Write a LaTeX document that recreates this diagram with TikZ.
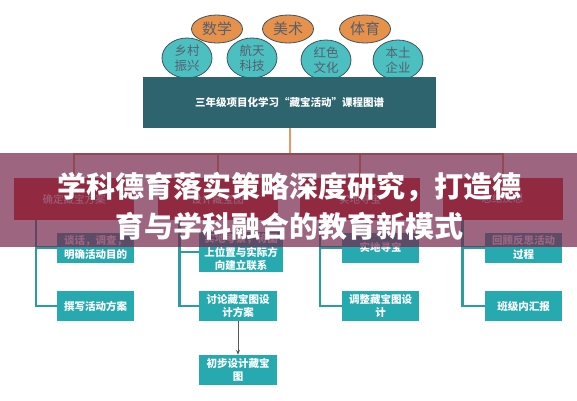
\documentclass[tikz,border=0pt]{standalone}
\usepackage{fontspec}
\usepackage{xcolor}
\usepackage{tikz}
\usetikzlibrary{shapes.geometric, arrows.meta, positioning, calc}
\newfontfamily\cjk{Noto Sans CJK SC}
\newfontfamily\cjkheavy{Noto Sans CJK SC Black}
\definecolor{subjorange}{HTML}{E8914A}
\definecolor{themeteal}{HTML}{4CBFC0}
\definecolor{ovaledge}{HTML}{3A5560}
\definecolor{ovaltext}{HTML}{55606E}
\definecolor{hdrteal}{HTML}{2D646E}
\definecolor{stagered}{HTML}{D63A2E}
\definecolor{taskteal}{HTML}{27A9B0}
\definecolor{linkteal}{HTML}{2A9DA3}
\definecolor{trunkorange}{HTML}{E39A66}
\definecolor{bandplum}{HTML}{74244A}

\begin{document}
\begin{tikzpicture}[
    x=1pt, y=-1pt,
    subj/.style={ellipse, draw=ovaledge, thick, fill=subjorange, minimum width=51pt, minimum height=28pt, inner sep=0pt, font=\cjk\fontsize{15}{16}\selectfont, text=ovaltext},
    theme/.style={ellipse, draw=ovaledge, thick, fill=themeteal, minimum width=50pt, minimum height=40pt, inner sep=0pt, align=center, font=\cjk\fontsize{12.5}{15}\selectfont, text=ovaltext},
    header/.style={rectangle, fill=hdrteal, minimum width=293pt, minimum height=51pt, text=white, font=\cjk\bfseries\fontsize{10.5}{12}\selectfont},
    stage/.style={rectangle, fill=stagered, minimum width=120pt, minimum height=42pt, text=white, font=\cjk\fontsize{10.5}{12}\selectfont},
    task/.style={rectangle, fill=taskteal, minimum width=77pt, minimum height=30pt, inner sep=1pt, align=center, text=white, font=\cjk\bfseries\fontsize{10.5}{13.5}\selectfont},
    link/.style={draw=linkteal, line width=2.6pt},
    trunk/.style={draw=trunkorange, line width=2pt},
    arrow/.style={-{Stealth[length=5pt, width=4pt]}, draw=black!65, line width=1pt}
]
\useasboundingbox (0,0) rectangle (577,400);
\fill[white] (0,0) rectangle (577,400);

% Subject ovals
\node[subj] (math) at (217,29) {数学};
\node[subj] (art)  at (288,29) {美术};
\node[subj] (pe)   at (365,29) {体育};

% Theme ovals
\node[theme] (rural)  at (187,58) {乡村\\振兴};
\node[theme] (space)  at (252,58) {航天\\科技};
\node[theme] (red)    at (326,60) {红色\\文化};
\node[theme] (local)  at (398,60) {本土\\企业};

% Header
\node[header] (hdr) at (289.5,102.5) {三年级项目化学习“藏宝活动”课程图谱};

% Stages
\node[stage] (s1) at (74,199)    {确定藏宝方案};
\node[stage] (s2) at (217.5,199) {设计藏宝图};
\node[stage] (s3) at (360,199)   {实地寻宝};
\node[stage] (s4) at (502.5,199) {总结反思};

% Tasks
\node[task] (t1a) at (95.5,247.5) {谈话，调查，\\明确活动目的};
\node[task] (t1b) at (95.5,306)   {撰写活动方案};
\node[task, minimum width=84pt, minimum height=40pt] (t2a) at (241,252) {实地考察，将图\\上位置与实际方\\向建立联系};
\node[task, minimum width=78pt] (t2b) at (238,306) {讨论藏宝图设\\计方案};
\node[task, minimum width=78pt] (t2c) at (238,370) {初步设计藏宝\\图};
\node[task] (t3a) at (380.5,247.5) {实地寻宝};
\node[task] (t3b) at (380.5,306)   {调整藏宝图设\\计};
\node[task] (t4a) at (523.5,247.5) {回顾反思活动\\过程};
\node[task] (t4b) at (523.5,306)   {班级内汇报};

% Trunk lines
\coordinate (bus) at ($(hdr.south)+(0,26)$);
\draw[trunk] (hdr.south) -- (bus);
\draw[trunk] (s1.north) -- (s1.north |- bus) -- (s4.north |- bus) -- (s4.north);
\draw[trunk] (s2.north) -- (s2.north |- bus);
\draw[trunk] (s3.north) -- (s3.north |- bus);

% Brackets
\draw[link] ($(s1.south west)+(22,0)$) |- (t1b.west);
\draw[link] ($(s1.south west)+(22,0)$) |- (t1a.west);
\draw[link] ($(s2.south west)+(22,0)$) |- (t2b.west);
\draw[link] ($(s2.south west)+(22,0)$) |- (t2a.west);
\draw[link] ($(s3.south west)+(20,0)$) |- (t3b.west);
\draw[link] ($(s3.south west)+(20,0)$) |- (t3a.west);
\draw[link] ($(s4.south west)+(20,0)$) |- (t4b.west);
\draw[link] ($(s4.south west)+(20,0)$) |- (t4a.west);
\draw[arrow] (t2b.south) -- (t2c.north);

% Title band
\fill[bandplum, opacity=0.7] (0,153) rectangle (577,247);
\node[font=\cjkheavy\fontsize{29}{40}\selectfont, text=white, align=center] (title) at (289,206) {学科德育落实策略深度研究，打造德\\育与学科融合的教育新模式};

\end{tikzpicture}
\end{document}
